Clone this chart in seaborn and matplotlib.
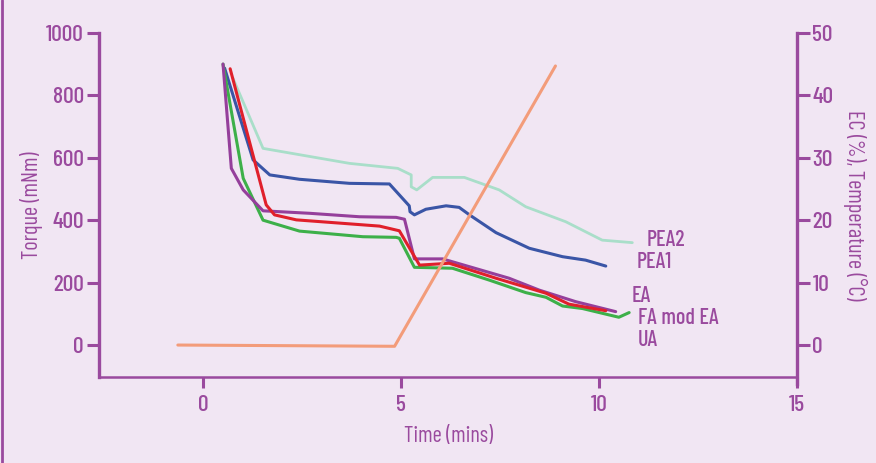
import matplotlib
matplotlib.use("Agg")
import matplotlib.pyplot as plt
import seaborn as sns
from matplotlib.lines import Line2D
from matplotlib import font_manager

sns.set_theme(style="white")

fams = {f.name for f in font_manager.fontManager.ttflist}
FONT = "Barlow Condensed" if "Barlow Condensed" in fams else "DejaVu Sans"
plt.rcParams["font.family"] = [FONT, "DejaVu Sans"]
plt.rcParams["font.weight"] = 500

# ---- data (time in minutes, torque in mNm) ----
ua_t = [0.51, 1.02, 1.52, 2.44, 4.04, 4.88, 4.96, 5.34, 6.30, 7.23, 8.15, 8.66, 9.08, 9.58, 10.50, 10.76]
ua_v = [900, 534, 400, 365, 347, 345, 342, 249, 246, 208, 168, 153, 125, 117, 89, 104]

ea_t = [0.51, 0.72, 1.02, 1.52, 2.70, 3.95, 4.88, 5.09, 5.34, 6.05, 7.73, 8.49, 9.41, 10.42]
ea_v = [900, 566, 497, 430, 422, 411, 409, 403, 276, 276, 214, 176, 139, 107]

fa_t = [0.69, 1.60, 1.81, 2.36, 4.46, 4.96, 5.47, 6.22, 7.40, 8.66, 9.24, 10.17]
fa_v = [885, 449, 417, 401, 381, 366, 256, 262, 214, 166, 131, 110]

pea1_t = [0.55, 1.27, 1.69, 2.44, 3.70, 4.71, 5.21, 5.23, 5.34, 5.63, 6.14, 6.47, 6.73, 7.40, 8.24, 9.08, 9.66, 10.17]
pea1_v = [887, 593, 545, 531, 518, 516, 446, 427, 417, 435, 446, 441, 417, 360, 310, 283, 272, 253]

pea2_t = [0.76, 1.52, 3.70, 4.92, 5.26, 5.26, 5.40, 5.80, 6.60, 7.48, 8.15, 9.16, 10.08, 10.84]
pea2_v = [855, 630, 582, 566, 545, 507, 497, 537, 537, 497, 443, 395, 336, 328]

temp_t = [-0.63, 4.84, 8.90]
temp_v = [0.0, -0.2, 44.7]

labels = ["PEA2", "PEA1", "EA", "FA mod EA", "UA"]
label_t = [11.2, 10.96, 10.83, 10.98, 10.98]
label_v = [337, 266, 157, 87, 16]

x_ticks = [0, 5, 10, 15]
y_ticks = [0, 200, 400, 600, 800, 1000]
y2_ticks = [0, 10, 20, 30, 40, 50]

BG = "#F1E6F3"
AX = "#9A4A9E"

fig = plt.figure(figsize=(8.76, 4.63), dpi=100, facecolor=BG)
ax = fig.add_axes([0.113, 0.186, 0.797, 0.743])
ax.set_facecolor(BG)

series = [
    (pea2_t, pea2_v, "#A9DEC9", 2.0),
    (pea1_t, pea1_v, "#3A55A6", 2.2),
    (ua_t, ua_v, "#3DB049", 2.2),
    (ea_t, ea_v, "#953F9B", 2.2),
    (fa_t, fa_v, "#E0202B", 2.2),
]
for t, v, c, lw in series:
    sns.lineplot(x=t, y=v, ax=ax, color=c, linewidth=lw, sort=False, estimator=None)

ax.set_xlim(-2.62, 15)
ax.set_ylim(-102, 1000)
ax.set_xticks(x_ticks)
ax.set_yticks(y_ticks)

ax2 = ax.twinx()
sns.lineplot(x=temp_t, y=temp_v, ax=ax2, color="#F39C7A", linewidth=2.2, sort=False, estimator=None)
ax2.set_ylim(-5.1, 50)
ax2.set_yticks(y2_ticks)

for a in (ax, ax2):
    for s in a.spines.values():
        s.set_visible(False)

ax.spines["left"].set_visible(True)
ax.spines["left"].set_color(AX)
ax.spines["left"].set_linewidth(2.4)
ax.spines["bottom"].set_visible(True)
ax.spines["bottom"].set_color(AX)
ax.spines["bottom"].set_linewidth(1.8)
ax2.spines["right"].set_visible(True)
ax2.spines["right"].set_color(AX)
ax2.spines["right"].set_linewidth(2.4)
ax2.spines["right"].set_bounds(-6.3, 50)

ax.tick_params(axis="y", direction="out", length=9, width=2.2, color=AX,
               labelcolor=AX, labelsize=17, pad=2, left=True)
ax.tick_params(axis="x", direction="out", length=8, width=2.2, color=AX,
               labelcolor=AX, labelsize=17, pad=5, bottom=True)
ax2.tick_params(axis="y", direction="out", length=9, width=2.2, color=AX,
                labelcolor=AX, labelsize=17, pad=2, right=True)

ax.set_xlabel("Time (mins)", color=AX, fontsize=16, labelpad=8)
ax.set_ylabel("Torque (mNm)", color=AX, fontsize=16, labelpad=2)
ax2.set_ylabel("EC (%), Temperature (\u00b0C)", color=AX, fontsize=16, rotation=270, labelpad=24)

for lab, t, v in zip(labels, label_t, label_v):
    ax.text(t, v, lab, color=AX, fontsize=16, ha="left", va="center")

# figure border line at left edge
fig.add_artist(Line2D([0.002, 0.002], [0, 1], transform=fig.transFigure, color=AX, linewidth=2))

fig.savefig("out.png", dpi=100, facecolor=BG)
